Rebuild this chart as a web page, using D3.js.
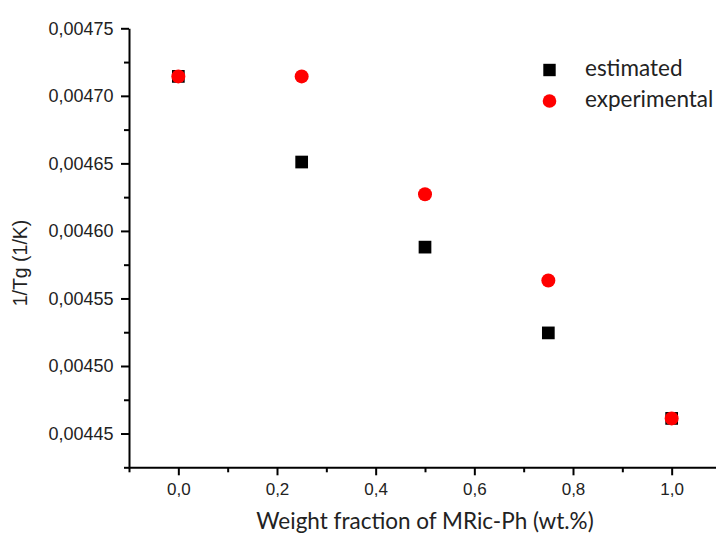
<!DOCTYPE html>
<html>
<head>
<meta charset="utf-8">
<script src="https://cdn.jsdelivr.net/npm/d3@7"></script>
<style>
  html, body { margin: 0; padding: 0; background: #fff; }
  svg { display: block; }
</style>
</head>
<body>
<svg id="chart" width="716" height="533"></svg>
<script>
// ---- data ----
const fractions = [0.0, 0.25, 0.5, 0.75, 1.0];
const estimated = [0.0047144, 0.0046510, 0.0045880, 0.0045245, 0.0044612];
const experimental = [0.0047144, 0.0047144, 0.0046271, 0.0045633, 0.0044612];
const seriesNames = ["estimated", "experimental"];
const xMajorTicks = [0.0, 0.2, 0.4, 0.6, 0.8, 1.0];
const xMinorTicks = [-0.1, 0.1, 0.3, 0.5, 0.7, 0.9];
const yMajorTicks = [0.00445, 0.00450, 0.00455, 0.00460, 0.00465, 0.00470, 0.00475];
const yMinorTicks = [0.004425, 0.004475, 0.004525, 0.004575, 0.004625, 0.004675, 0.004725];
const xTitle = "Weight fraction of MRic-Ph (wt.%)";
const yTitle = "1/Tg (1/K)";

// ---- layout ----
const svg = d3.select("#chart");
const mLeft = 129, mRight = 721, mTop = 28.3, mBottom = 467.3;

const x = d3.scaleLinear().domain([-0.1, 1.1]).range([mLeft, mRight]);
const y = d3.scaleLinear().domain([0.004425, 0.00475]).range([mBottom, mTop]);

const comma = s => s.replace(".", ",");
const tickFont = "'Liberation Sans', Arial, sans-serif";
const titleFont = "Lato, 'Open Sans', sans-serif";

// minor ticks
svg.append("g").attr("transform", `translate(0,${mBottom})`)
  .call(d3.axisBottom(x).tickValues(xMinorTicks).tickSize(5).tickFormat(""))
  .call(g => g.select(".domain").remove())
  .call(g => g.selectAll("line").attr("stroke", "#000").attr("stroke-width", 2));
svg.append("g").attr("transform", `translate(${mLeft},0)`)
  .call(d3.axisLeft(y).tickValues(yMinorTicks).tickSize(5).tickFormat(""))
  .call(g => g.select(".domain").remove())
  .call(g => g.selectAll("line").attr("stroke", "#000").attr("stroke-width", 2));

// major x axis
svg.append("g").attr("transform", `translate(0,${mBottom})`)
  .call(d3.axisBottom(x).tickValues(xMajorTicks).tickSizeInner(8).tickSizeOuter(0)
    .tickPadding(8).tickFormat(d => comma(d3.format(".1f")(d))))
  .call(g => g.select(".domain").attr("stroke", "#000").attr("stroke-width", 2))
  .call(g => g.selectAll("line").attr("stroke", "#000").attr("stroke-width", 2))
  .call(g => g.selectAll("text").attr("font-family", tickFont).attr("font-size", 17).attr("fill", "#222"));

// major y axis
svg.append("g").attr("transform", `translate(${mLeft},0)`)
  .call(d3.axisLeft(y).tickValues(yMajorTicks).tickSizeInner(8).tickSizeOuter(0)
    .tickPadding(7.5).tickFormat(d => comma(d3.format(".5f")(d))))
  .call(g => g.select(".domain").attr("stroke", "#000").attr("stroke-width", 2))
  .call(g => g.selectAll("line").attr("stroke", "#000").attr("stroke-width", 2))
  .call(g => g.selectAll("text").attr("font-family", tickFont).attr("font-size", 18).attr("fill", "#222"));

// titles
svg.append("text")
  .attr("x", (mLeft + mRight) / 2).attr("y", 529)
  .attr("text-anchor", "middle")
  .attr("font-family", titleFont).attr("font-size", 22.5).attr("fill", "#222")
  .text(xTitle);
svg.append("text")
  .attr("transform", `translate(27,263) rotate(-90)`)
  .attr("text-anchor", "middle")
  .attr("font-family", tickFont).attr("font-size", 19.5).attr("fill", "#222")
  .text(yTitle);

// data points
const sq = 12.7;
svg.append("g").selectAll("rect")
  .data(fractions.map((f, i) => [f, estimated[i]]))
  .join("rect")
  .attr("x", d => x(d[0]) - sq / 2).attr("y", d => y(d[1]) - sq / 2)
  .attr("width", sq).attr("height", sq).attr("fill", "#000");
svg.append("g").selectAll("circle")
  .data(fractions.map((f, i) => [f, experimental[i]]))
  .join("circle")
  .attr("cx", d => x(d[0])).attr("cy", d => y(d[1]))
  .attr("r", 7).attr("fill", "#ff0000");

// legend
const lg = svg.append("g");
lg.append("rect").attr("x", 549.5 - 6.2).attr("y", 70 - 6.2).attr("width", 12.4).attr("height", 12.4).attr("fill", "#000");
lg.append("circle").attr("cx", 549.5).attr("cy", 101).attr("r", 6.8).attr("fill", "#ff0000");
lg.append("text").attr("x", 585).attr("y", 76).attr("font-family", titleFont).attr("font-size", 22.5).attr("fill", "#222").text(seriesNames[0]);
lg.append("text").attr("x", 585).attr("y", 107).attr("font-family", titleFont).attr("font-size", 22.5).attr("fill", "#222").text(seriesNames[1]);
</script>
</body>
</html>
